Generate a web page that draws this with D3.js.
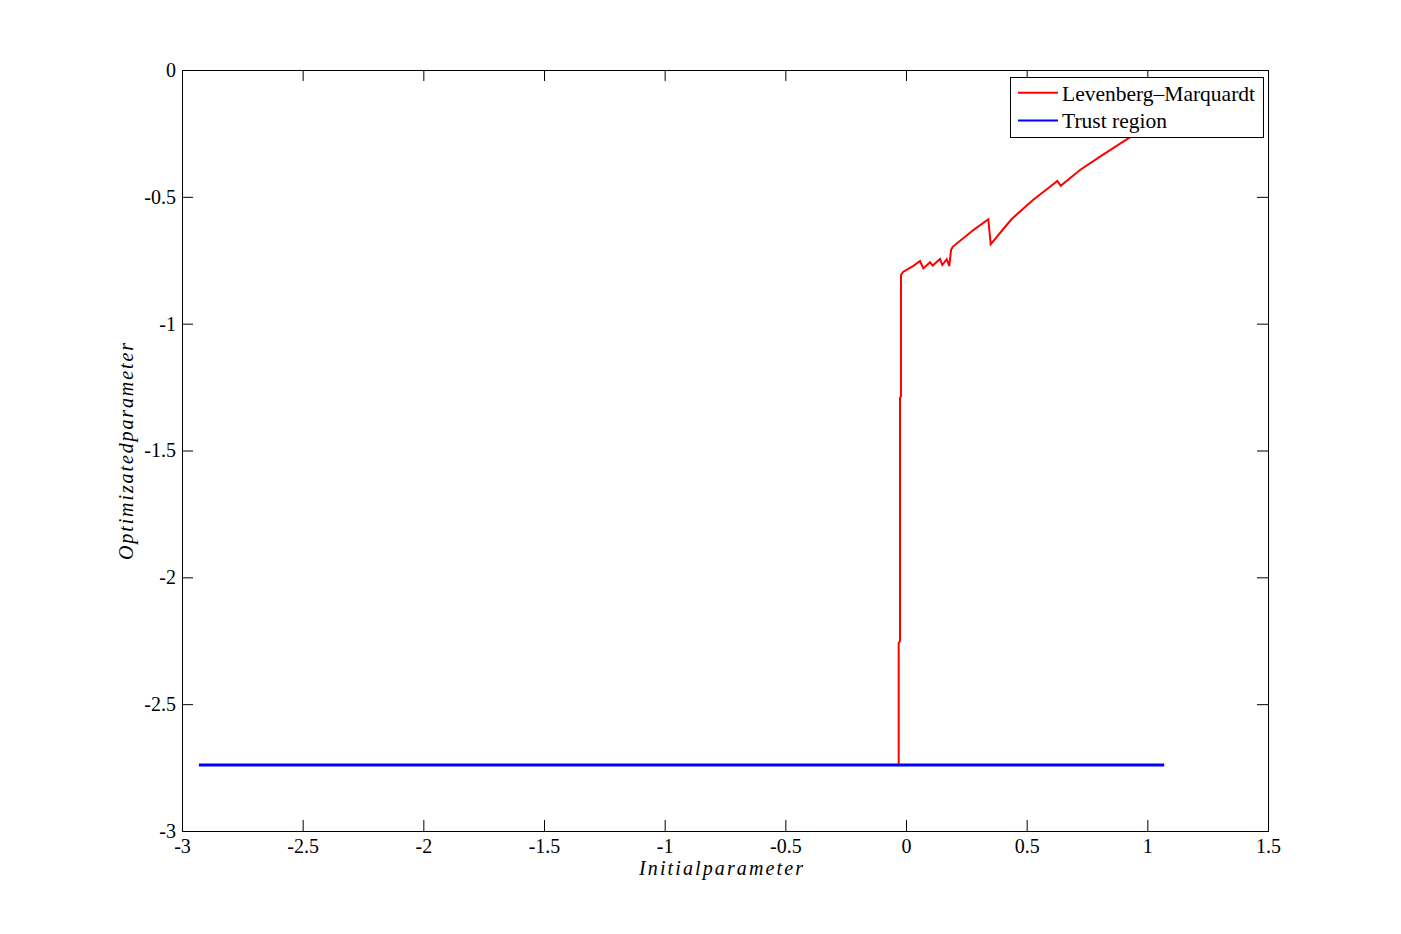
<!DOCTYPE html>
<html>
<head>
<meta charset="utf-8">
<script src="https://cdn.jsdelivr.net/npm/d3@7"></script>
<style>
  html, body { margin: 0; padding: 0; background: #fff; }
  svg { display: block; }
  text { font-family: "Liberation Serif", "Times New Roman", serif; fill: #000; }
</style>
</head>
<body>
<svg id="chart" width="1401" height="934"></svg>
<script>
// ---- data ----
const lmX = [-0.0303, -0.0303, -0.0249, -0.0249, -0.0207, -0.0207, -0.0124, 0.029, 0.058, 0.0717, 0.0994, 0.1106, 0.1409, 0.1504, 0.1686, 0.1794, 0.1865, 0.1935, 0.279, 0.341, 0.351, 0.3895, 0.438, 0.5262, 0.5967, 0.627, 0.641, 0.721, 0.8039, 0.9211, 1.069];
const lmY = [-2.740, -2.259, -2.251, -1.293, -1.285, -0.808, -0.796, -0.773, -0.753, -0.782, -0.758, -0.771, -0.745, -0.769, -0.746, -0.773, -0.710, -0.697, -0.631, -0.5886, -0.687, -0.6426, -0.5874, -0.5125, -0.460, -0.4376, -0.4561, -0.3942, -0.3418, -0.2693, -0.181];
const trX = [-2.93, 1.07];
const trY = [-2.74, -2.74];
const xTicks = [-3, -2.5, -2, -1.5, -1, -0.5, 0, 0.5, 1, 1.5];
const yTicks = [0, -0.5, -1, -1.5, -2, -2.5, -3];
const seriesNames = ["Levenberg\u2013Marquardt", "Trust region"];
const seriesColors = ["#ff0000", "#0000ff"];
const xLabel = "Initialparameter";
const yLabel = "Optimizatedparameter";

// ---- layout ----
const svg = d3.select("#chart");
const L = 182, R = 1268, T = 70, B = 831;
const x = d3.scaleLinear().domain([-3, 1.5]).range([L, R]);
const y = d3.scaleLinear().domain([-3, 0]).range([B, T]);
const tickLen = 11;

function styleAxis(g) {
  g.select(".domain").remove();
  g.selectAll(".tick line").attr("stroke", "#000").attr("stroke-width", 1);
  g.selectAll(".tick text").style("font-size", "20px").attr("font-family", null);
}

const fmt = d => String(d).replace("\u2212", "-");

svg.append("g").attr("transform", `translate(0,${B})`)
  .call(d3.axisBottom(x).tickValues(xTicks).tickFormat(fmt).tickSizeInner(-tickLen).tickSizeOuter(0).tickPadding(8))
  .call(styleAxis);
svg.append("g").attr("transform", `translate(0,${T})`)
  .call(d3.axisTop(x).tickValues(xTicks).tickFormat("").tickSizeInner(-tickLen).tickSizeOuter(0))
  .call(styleAxis);
svg.append("g").attr("transform", `translate(${L},0)`)
  .call(d3.axisLeft(y).tickValues(yTicks).tickFormat(fmt).tickSizeInner(-tickLen).tickSizeOuter(0).tickPadding(6))
  .call(styleAxis);
svg.append("g").attr("transform", `translate(${R},0)`)
  .call(d3.axisRight(y).tickValues(yTicks).tickFormat("").tickSizeInner(-tickLen).tickSizeOuter(0))
  .call(styleAxis);

// frame
svg.append("rect").attr("x", L + 0.5).attr("y", T + 0.5)
  .attr("width", R - L).attr("height", B - T)
  .attr("fill", "none").attr("stroke", "#000").attr("stroke-width", 1);

// lines
const line = d3.line().x(d => x(d[0])).y(d => y(d[1]));
svg.append("path").datum(d3.zip(lmX, lmY)).attr("d", line)
  .attr("fill", "none").attr("stroke", seriesColors[0]).attr("stroke-width", 2).attr("stroke-linejoin", "miter");
svg.append("path").datum(d3.zip(trX, trY)).attr("d", line)
  .attr("fill", "none").attr("stroke", seriesColors[1]).attr("stroke-width", 3);

// axis labels
svg.append("text").attr("x", 721).attr("y", 875).attr("text-anchor", "middle")
  .style("font-size", "20px").style("font-style", "italic")
  .attr("textLength", 164).attr("lengthAdjust", "spacing").text(xLabel);
svg.append("text").attr("transform", "translate(133,451.5) rotate(-90)").attr("text-anchor", "middle")
  .style("font-size", "20px").style("font-style", "italic")
  .attr("textLength", 217).attr("lengthAdjust", "spacing").text(yLabel);

// legend
const lg = svg.append("g");
lg.append("rect").attr("x", 1010.5).attr("y", 77.5).attr("width", 253).attr("height", 60)
  .attr("fill", "#fff").attr("stroke", "#000").attr("stroke-width", 1);
const rowsY = [92.7, 120.5];
seriesNames.forEach((n, i) => {
  lg.append("line").attr("x1", 1018).attr("x2", 1058).attr("y1", rowsY[i]).attr("y2", rowsY[i])
    .attr("stroke", seriesColors[i]).attr("stroke-width", 2);
  lg.append("text").attr("x", 1062).attr("y", rowsY[i] + 7.8)
    .style("font-size", "21.5px").text(n);
});
</script>
</body>
</html>
